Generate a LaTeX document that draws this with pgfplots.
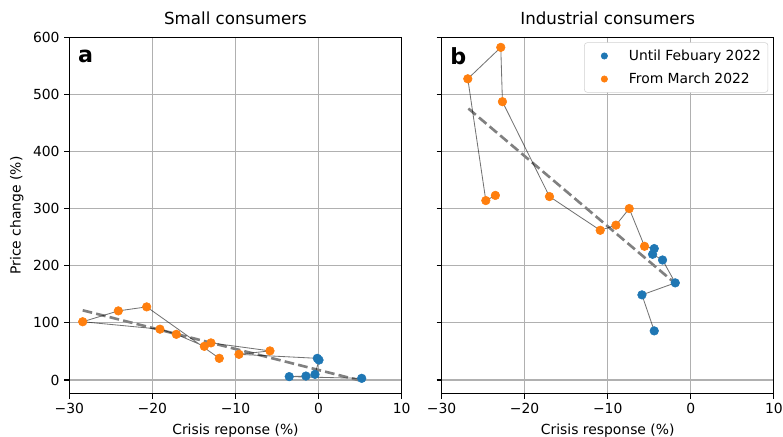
\documentclass[border=0pt]{standalone}
\usepackage{fontspec}
\setmainfont{DejaVu Sans}
\usepackage{pgfplots}
\pgfplotsset{compat=1.18}
\definecolor{mblue}{HTML}{1F77B4}
\definecolor{morange}{HTML}{FF7F0E}
\definecolor{mgrid}{HTML}{B0B0B0}
\definecolor{mtrend}{HTML}{808080}

\pgfplotsset{
  panel/.style={
    scale only axis, width=239.3pt, height=256.8pt,
    xmin=-30, xmax=10, ymin=-24, ymax=600,
    xtick={-30,-20,-10,0,10},
    xticklabels={−30,−20,−10,0,10},
    ytick={0,100,200,300,400,500,600},
    /pgf/number format/assume math mode=true,
    grid=major,
    major grid style={mgrid, line width=0.8pt},
    axis line style={line width=0.8pt},
    tick style={black, line width=0.8pt},
    major tick length=3.5pt,
    tick align=outside, tick pos=left,
    ticklabel style={font=\fontsize{10}{12}\selectfont},
    label style={font=\fontsize{10}{12}\selectfont},
    title style={font=\fontsize{12}{14}\selectfont, yshift=-1pt},
    clip=false,
  },
  trend/.style={mtrend, line width=1.9pt, dash pattern=on 7pt off 3pt, forget plot},
  link/.style={black, opacity=0.55, line width=0.6pt, forget plot},
  bdot/.style={only marks, mark=*, mark size=3.1pt, mark options={draw=mblue, fill=mblue}},
  odot/.style={only marks, mark=*, mark size=3.1pt, mark options={draw=morange, fill=morange}},
}

\begin{document}
\begin{tikzpicture}
\path[use as bounding box] (0,0) rectangle (563.76pt,-313.92pt);

% small consumers
\begin{axis}[panel, at={(49.9pt,-283.5pt)}, anchor=south west,
  title={Small consumers},
  xlabel={Crisis reponse (\%)}, ylabel={Price change (\%)}]
\addplot[trend] coordinates {(-28.39,122) (4.78,0)};
\addplot[bdot, forget plot] coordinates {
  (5.19,3) (-3.53,6) (-1.52,7) (-0.43,10) (0.05,35) (-0.15,38)};
\addplot[odot, forget plot] coordinates {
  (-9.58,45) (-5.85,51) (-12.95,65) (-13.75,59) (-17.12,80)
  (-19.09,89) (-28.39,102) (-24.10,121) (-20.69,128) (-11.95,38)};
\addplot[link] coordinates {
  (5.19,3) (-3.53,6) (-1.52,7) (-0.43,10) (0.05,35) (-0.15,38)
  (-9.58,45) (-5.85,51) (-12.95,65) (-13.75,59) (-17.12,80)
  (-19.09,89) (-28.39,102) (-24.10,121) (-20.69,128) (-11.95,38)};
\node[anchor=west, font=\bfseries\fontsize{16}{18}\selectfont] at (rel axis cs:0.012,0.945) {a};
\end{axis}

% industrial consumers
\begin{axis}[panel, at={(317.9pt,-283.5pt)}, anchor=south west,
  title={Industrial consumers},
  xlabel={Crisis response (\%)}, yticklabels={},
  legend cell align=left,
  legend image code/.code={
    \draw[#1, mark size=2.3pt] plot coordinates {(0.4cm,0cm)};
    \path[draw=none, fill=none] (0,0) rectangle (0.95cm,0.01cm);},
  legend style={at={(rel axis cs:0.983,0.985)}, anchor=north east,
    draw=black!18, rounded corners=2pt, fill=white,
    font=\fontsize{10}{12}\selectfont, row sep=3.5pt, inner xsep=3pt, inner ysep=3pt}]
\addplot[trend] coordinates {(-26.77,475) (-1.87,169)};
\addplot[bdot] coordinates {
  (-4.40,86) (-5.88,149) (-1.87,170) (-3.40,210) (-4.60,220) (-4.40,230)};
\addlegendentry{Until Febuary 2022}
\addplot[odot] coordinates {
  (-5.57,234) (-7.41,300) (-9.01,271) (-10.90,262) (-17.01,321)
  (-22.67,487) (-22.87,582) (-26.84,527) (-24.67,314) (-23.52,323)};
\addlegendentry{From March 2022}
\addplot[link] coordinates {
  (-4.40,86) (-5.88,149) (-1.87,170) (-3.40,210) (-4.60,220) (-4.40,230)
  (-5.57,234) (-7.41,300) (-9.01,271) (-10.90,262) (-17.01,321)
  (-22.67,487) (-22.87,582) (-26.84,527) (-24.67,314) (-23.52,323)};
\node[anchor=west, font=\bfseries\fontsize{16}{18}\selectfont] at (rel axis cs:0.012,0.945) {b};
\end{axis}
\end{tikzpicture}
\end{document}
